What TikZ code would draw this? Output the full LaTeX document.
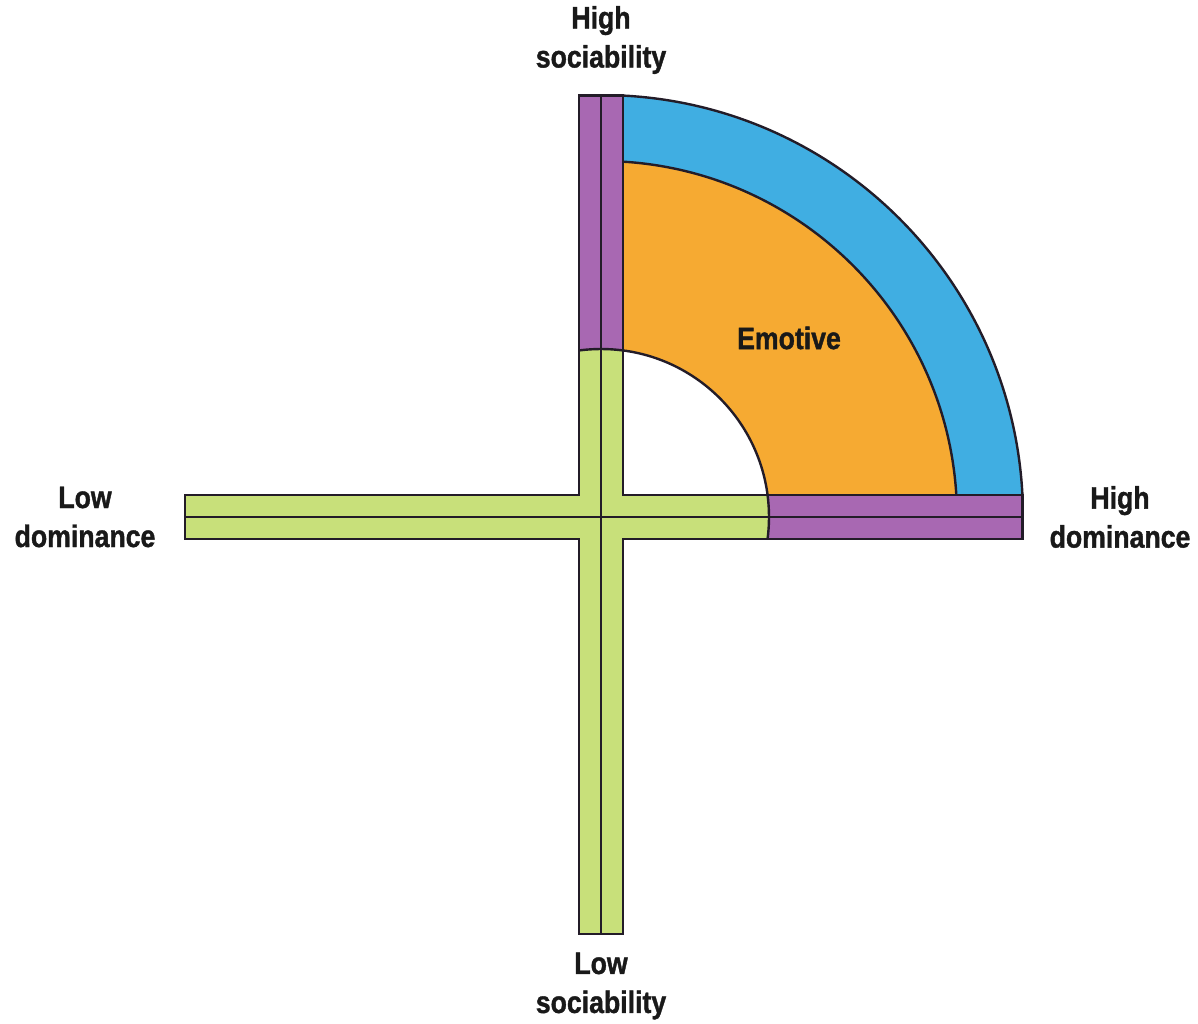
\documentclass[tikz,border=0pt]{standalone}
\usepackage{fontspec}
\setmainfont{Liberation Sans}[FakeStretch=0.86,BoldFeatures={FakeBold=1.2}]
\definecolor{cpurple}{RGB}{168,104,178}
\definecolor{cblue}{RGB}{64,174,226}
\definecolor{corange}{RGB}{246,170,50}
\definecolor{cgreen}{RGB}{200,224,122}
\definecolor{cline}{RGB}{35,28,40}
\tikzset{
  edge/.style={draw=cline,line width=2.4pt,line join=miter},
  lbl/.style={inner sep=0pt,align=center,font=\fontsize{31}{39}\selectfont\bfseries,text=black!90}
}
\begin{document}
\begin{tikzpicture}[x=1pt,y=1pt]
\useasboundingbox (0,-1024) rectangle (1198,0);
\fill[white] (0,-1024) rectangle (1198,0);
\def\w{22}
\def\Ri{168}
\def\Rm{356}
\def\Ro{422}
\def\T{421.4}
\def\ai{7.52}
\def\B{417}
\def\L{416}
\begin{scope}[shift={(601,-517)}]
  \coordinate (C) at (0,0);
  % quadrant rings
  \begin{scope}
    \clip (\w,\w) rectangle (460,460);
    \fill[cblue] (C) circle (\Ro);
    \fill[corange] (C) circle (\Rm);
    \fill[white] (C) circle (\Ri);
    \draw[edge] (C) circle (\Ro);
    \draw[edge] (C) circle (\Rm);
    \draw[edge] (C) circle (\Ri);
  \end{scope}
  % purple bars
  \fill[cpurple] (-\w,0) rectangle (\w,\T);
  \fill[cpurple] (0,-\w) rectangle (\T,\w);
  % green parts
  \fill[cgreen] (-\w,-\B) rectangle (\w,0);
  \fill[cgreen] (-\L,-\w) rectangle (0,\w);
  \begin{scope}
    \clip (C) circle (\Ri);
    \fill[cgreen] (-\w,0) rectangle (\w,\T);
    \fill[cgreen] (0,-\w) rectangle (\T,\w);
  \end{scope}
  % outline of the cross
  \draw[edge] (-\w,-\B) -- (\w,-\B) -- (\w,-\w) -- (\T,-\w) -- (\T,\w) -- (\w,\w)
     -- (\w,\T) -- (-\w,\T) -- (-\w,\w) -- (-\L,\w) -- (-\L,-\w) -- (-\w,-\w) -- cycle;
  \draw[edge] (0,-\B) -- (0,\T);
  \draw[edge] (-\L,0) -- (\T,0);
  \draw[edge] (90-\ai:\Ri) arc (90-\ai:90+\ai:\Ri);
  \draw[edge] (-\ai:\Ri) arc (-\ai:\ai:\Ri);
\end{scope}
\node[lbl] (hs) at (601,-40) {High\\sociability};
\node[lbl] (ls) at (601,-986) {Low\\sociability};
\node[lbl] (ld) at (85,-517) {Low\\dominance};
\node[lbl] (hd) at (1120,-517) {High\\dominance};
\node[lbl] (em) at (789,-338) {Emotive};
\end{tikzpicture}
\end{document}
